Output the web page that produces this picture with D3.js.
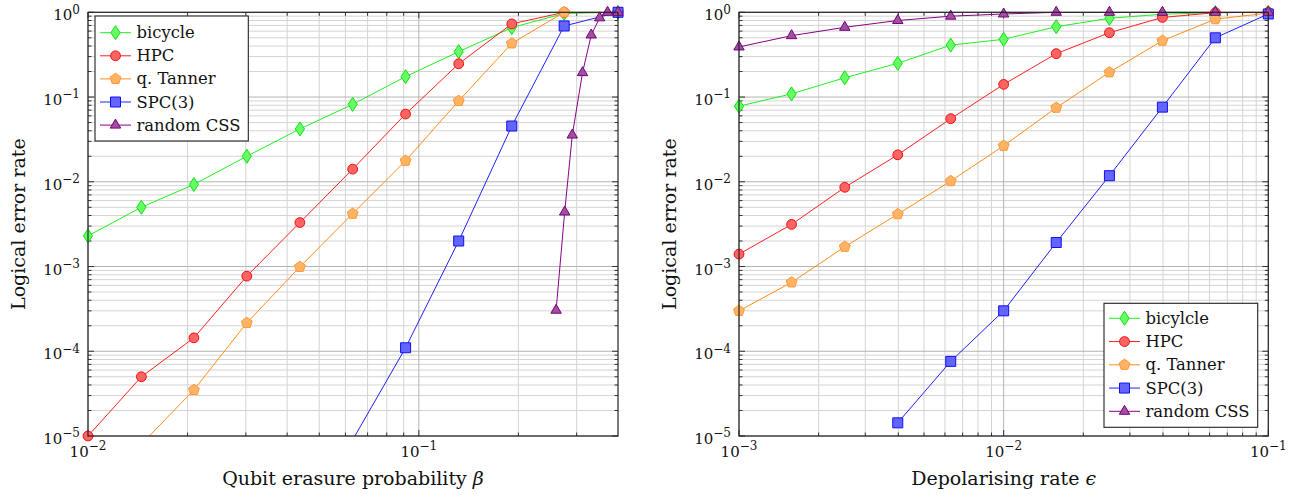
<!DOCTYPE html>
<html>
<head>
<meta charset="utf-8">
<script src="https://cdn.jsdelivr.net/npm/d3@7"></script>
<style>
body { margin: 0; background: #fff; }
text { font-family: "DejaVu Serif", serif; fill: #111; }
</style>
</head>
<body>
<svg id="chart" width="1315" height="497"></svg>
<script>
// ---- data ----
var erasureNames = ["bicycle", "HPC", "q. Tanner", "SPC(3)", "random CSS"];
var depolNames = ["bicylcle", "HPC", "q. Tanner", "SPC(3)", "random CSS"];

// left panel: qubit erasure probability
var erasureRate = [0.01, 0.0145, 0.0209, 0.0302, 0.0437, 0.0631, 0.0912, 0.132, 0.191, 0.275, 0.4];
var erBicycle = [2.3e-3, 5.0e-3, 9.3e-3, 0.020, 0.042, 0.082, 0.174, 0.343, 0.66, 0.97, 1.0];
var erHPC     = [1.0e-5, 5.0e-5, 1.44e-4, 7.7e-4, 3.3e-3, 0.0141, 0.063, 0.247, 0.73, 1.0, 1.0];
var erTanner  = [null, 8e-6, 3.5e-5, 2.16e-4, 9.9e-4, 4.2e-3, 0.0177, 0.090, 0.43, 1.0, 1.0];
var erSPC     = [null, null, null, null, null, 9e-6, 1.1e-4, 2.0e-3, 0.0455, 0.69, 1.0];
var cssErasureRate = [0.26, 0.276, 0.291, 0.3125, 0.332, 0.352, 0.372, 0.4];
var erCSS     = [3.05e-4, 4.4e-3, 0.0356, 0.194, 0.54, 0.86, 1.0, 1.0];

// right panel: depolarising rate
var depolRate = [0.001, 0.00158, 0.00251, 0.00398, 0.00631, 0.01, 0.0158, 0.0251, 0.0398, 0.0631, 0.1];
var dpBicycle = [0.078, 0.109, 0.169, 0.25, 0.41, 0.48, 0.676, 0.85, 0.95, 0.99, 1.0];
var dpHPC     = [1.4e-3, 3.14e-3, 8.6e-3, 0.0208, 0.0555, 0.141, 0.325, 0.574, 0.87, 0.99, 1.0];
var dpTanner  = [3.0e-4, 6.5e-4, 1.71e-3, 4.15e-3, 0.0102, 0.0266, 0.0748, 0.196, 0.462, 0.83, 0.98];
var dpSPC     = [null, null, null, 1.43e-5, 7.6e-5, 3.0e-4, 1.92e-3, 0.0118, 0.076, 0.50, 0.955];
var dpCSS     = [0.39, 0.53, 0.665, 0.80, 0.90, 0.955, 1.0, 1.0, 1.0, 1.0, 1.0];

// ticks
var yTickValues = [1e-5, 1e-4, 1e-3, 1e-2, 1e-1, 1];
var yTickExp = ["\u22125", "\u22124", "\u22123", "\u22122", "\u22121", "0"];
var erXTickValues = [0.01, 0.1];
var erXTickExp = ["\u22122", "\u22121"];
var dpXTickValues = [0.001, 0.01, 0.1];
var dpXTickExp = ["\u22123", "\u22122", "\u22121"];

var styles = [
  {line: "#22ee22", fill: "#66ff66", stroke: "#14dd14", mark: "diamond"},
  {line: "#ff2020", fill: "#ff6464", stroke: "#f01010", mark: "circle"},
  {line: "#ff8c1a", fill: "#ffb366", stroke: "#ff9a33", mark: "pentagon"},
  {line: "#2020ff", fill: "#6464ff", stroke: "#1010f0", mark: "square"},
  {line: "#880088", fill: "#a050a0", stroke: "#7a007a", mark: "triangle"}
];

function zip(xs, ys) {
  return xs.map(function(v, i) { return [v, ys[i]]; });
}

function polygon(n, r, rot) {
  var pts = [];
  for (var k = 0; k < n; k++) {
    var a = (rot + k * 360 / n) * Math.PI / 180;
    pts.push((r * Math.cos(a)).toFixed(2) + "," + (r * Math.sin(a)).toFixed(2));
  }
  return "M" + pts.join("L") + "Z";
}

function markPath(type) {
  if (type == "diamond") return "M0,-7L4.6,0L0,7L-4.6,0Z";
  if (type == "circle") return "M-4.9,0a4.9,4.9 0 1,0 9.8,0a4.9,4.9 0 1,0 -9.8,0Z";
  if (type == "square") return "M-5,-5h10v10h-10Z";
  if (type == "pentagon") return polygon(5, 5.7, -90);
  return polygon(3, 6, -90);
}

var svg = d3.select("#chart");
svg.append("rect").attr("width", 1315).attr("height", 497).attr("fill", "#fff");

var top_ = 12.3, bottom = 436;

function powLabel(sel, exps) {
  sel.each(function(d, i) {
    var t = d3.select(this);
    t.append("tspan").text("10");
    t.append("tspan").attr("dy", "-0.55em").style("font-size", "12px").text(exps[i]);
  });
}

function drawPanel(cfg) {
  var x = d3.scaleLog().domain(cfg.xDomain).range([cfg.left, cfg.right]);
  var y = d3.scaleLog().domain([1e-5, 1]).range([bottom, top_]);
  var g = svg.append("g");

  var xMinor = x.ticks().filter(function(v) { return cfg.xTicks.indexOf(v) < 0 && v < cfg.xDomain[1] * 0.999; });
  var yMinor = y.ticks().filter(function(v) { return yTickValues.indexOf(v) < 0; });

  // grid
  g.selectAll(".gx").data(xMinor).enter().append("line")
    .attr("x1", x).attr("x2", x).attr("y1", top_).attr("y2", bottom)
    .attr("stroke", "#d4d4d4").attr("stroke-width", 1);
  g.selectAll(".gy").data(yMinor).enter().append("line")
    .attr("y1", y).attr("y2", y).attr("x1", cfg.left).attr("x2", cfg.right)
    .attr("stroke", "#d4d4d4").attr("stroke-width", 1);
  g.selectAll(".gxM").data(cfg.xTicks).enter().append("line")
    .attr("x1", x).attr("x2", x).attr("y1", top_).attr("y2", bottom)
    .attr("stroke", "#b4b4b4").attr("stroke-width", 1);
  g.selectAll(".gyM").data(yTickValues).enter().append("line")
    .attr("y1", y).attr("y2", y).attr("x1", cfg.left).attr("x2", cfg.right)
    .attr("stroke", "#b4b4b4").attr("stroke-width", 1);

  // ticks on all four sides, pointing in
  var tk = g.append("g").attr("stroke", "#333").attr("stroke-width", 1);
  [[xMinor, 3.5], [cfg.xTicks, 6]].forEach(function(p) {
    tk.selectAll(null).data(p[0]).enter().append("line")
      .attr("x1", x).attr("x2", x).attr("y1", bottom).attr("y2", bottom - p[1]);
    tk.selectAll(null).data(p[0]).enter().append("line")
      .attr("x1", x).attr("x2", x).attr("y1", top_).attr("y2", top_ + p[1]);
  });
  [[yMinor, 3.5], [yTickValues, 6]].forEach(function(p) {
    tk.selectAll(null).data(p[0]).enter().append("line")
      .attr("y1", y).attr("y2", y).attr("x1", cfg.left).attr("x2", cfg.left + p[1]);
    tk.selectAll(null).data(p[0]).enter().append("line")
      .attr("y1", y).attr("y2", y).attr("x1", cfg.right).attr("x2", cfg.right - p[1]);
  });

  // tick labels
  g.selectAll(".xl").data(cfg.xTicks).enter().append("text")
    .attr("x", x).attr("y", bottom + 21)
    .attr("text-anchor", "middle").style("font-size", "15px")
    .call(powLabel, cfg.xExp);
  g.selectAll(".yl").data(yTickValues).enter().append("text")
    .attr("x", cfg.left - 8).attr("y", function(d) { return y(d) + 8; })
    .attr("text-anchor", "end").style("font-size", "15px")
    .call(powLabel, yTickExp);

  // axis titles
  g.append("text")
    .attr("x", (cfg.left + cfg.right) / 2).attr("y", 485)
    .attr("text-anchor", "middle").style("font-size", "19px")
    .html(cfg.xTitle);
  g.append("text")
    .attr("transform", "translate(" + (cfg.left - 63) + "," + ((top_ + bottom) / 2) + ") rotate(-90)")
    .attr("text-anchor", "middle").style("font-size", "19px")
    .text("Logical error rate");

  // data
  var clipId = "clip" + cfg.id;
  svg.append("clipPath").attr("id", clipId).append("rect")
    .attr("x", cfg.left).attr("y", top_).attr("width", cfg.right - cfg.left).attr("height", bottom - top_);

  var line = d3.line()
    .defined(function(d) { return d[1] != null; })
    .x(function(d) { return x(d[0]); })
    .y(function(d) { return y(d[1]); });

  cfg.series.forEach(function(pts, i) {
    var st = styles[i];
    g.append("path").datum(pts)
      .attr("clip-path", "url(#" + clipId + ")")
      .attr("fill", "none").attr("stroke", st.line).attr("stroke-width", 1)
      .attr("d", line);
    g.selectAll(null)
      .data(pts.filter(function(d) { return d[1] != null && d[1] >= 0.999e-5; }))
      .enter().append("path")
      .attr("transform", function(d) { return "translate(" + x(d[0]) + "," + y(d[1]) + ")"; })
      .attr("d", markPath(st.mark))
      .attr("fill", st.fill).attr("stroke", st.stroke).attr("stroke-width", 1);
  });

  // frame
  g.append("rect")
    .attr("x", cfg.left).attr("y", top_).attr("width", cfg.right - cfg.left).attr("height", bottom - top_)
    .attr("fill", "none").attr("stroke", "#222").attr("stroke-width", 1.2);

  // legend
  var L = cfg.legend;
  var lg = g.append("g").attr("transform", "translate(" + L.x + "," + L.y + ")");
  lg.append("rect").attr("width", L.w).attr("height", L.h)
    .attr("fill", "#fff").attr("stroke", "#222").attr("stroke-width", 1.1);
  cfg.names.forEach(function(name, i) {
    var st = styles[i];
    var cy = L.row0 + L.step * i;
    lg.append("line").attr("x1", 5).attr("x2", 36).attr("y1", cy).attr("y2", cy)
      .attr("stroke", st.line).attr("stroke-width", 1);
    lg.append("path").attr("transform", "translate(20.5," + cy + ")")
      .attr("d", markPath(st.mark))
      .attr("fill", st.fill).attr("stroke", st.stroke).attr("stroke-width", 1);
    lg.append("text").attr("x", 41.5).attr("y", cy + 5.5)
      .style("font-size", "16.4px").text(name);
  });
}

drawPanel({
  id: "L",
  left: 88, right: 618,
  xDomain: [0.01, 0.4],
  xTicks: erXTickValues, xExp: erXTickExp,
  xTitle: "Qubit erasure probability <tspan font-style=\"italic\">\u03b2</tspan>",
  names: erasureNames,
  series: [zip(erasureRate, erBicycle), zip(erasureRate, erHPC), zip(erasureRate, erTanner),
           zip(erasureRate, erSPC), zip(cssErasureRate, erCSS)],
  legend: {x: 95, y: 16, w: 153.3, h: 125, row0: 16.7, step: 23.1}
});

drawPanel({
  id: "R",
  left: 739, right: 1268.3,
  xDomain: [0.001, 0.1],
  xTicks: dpXTickValues, xExp: dpXTickExp,
  xTitle: "Depolarising rate <tspan font-style=\"italic\">\u03f5</tspan>",
  names: depolNames,
  series: [zip(depolRate, dpBicycle), zip(depolRate, dpHPC), zip(depolRate, dpTanner),
           zip(depolRate, dpSPC), zip(depolRate, dpCSS)],
  legend: {x: 1104, y: 303.3, w: 153.7, h: 124, row0: 15, step: 23.25}
});
</script>
</body>
</html>
